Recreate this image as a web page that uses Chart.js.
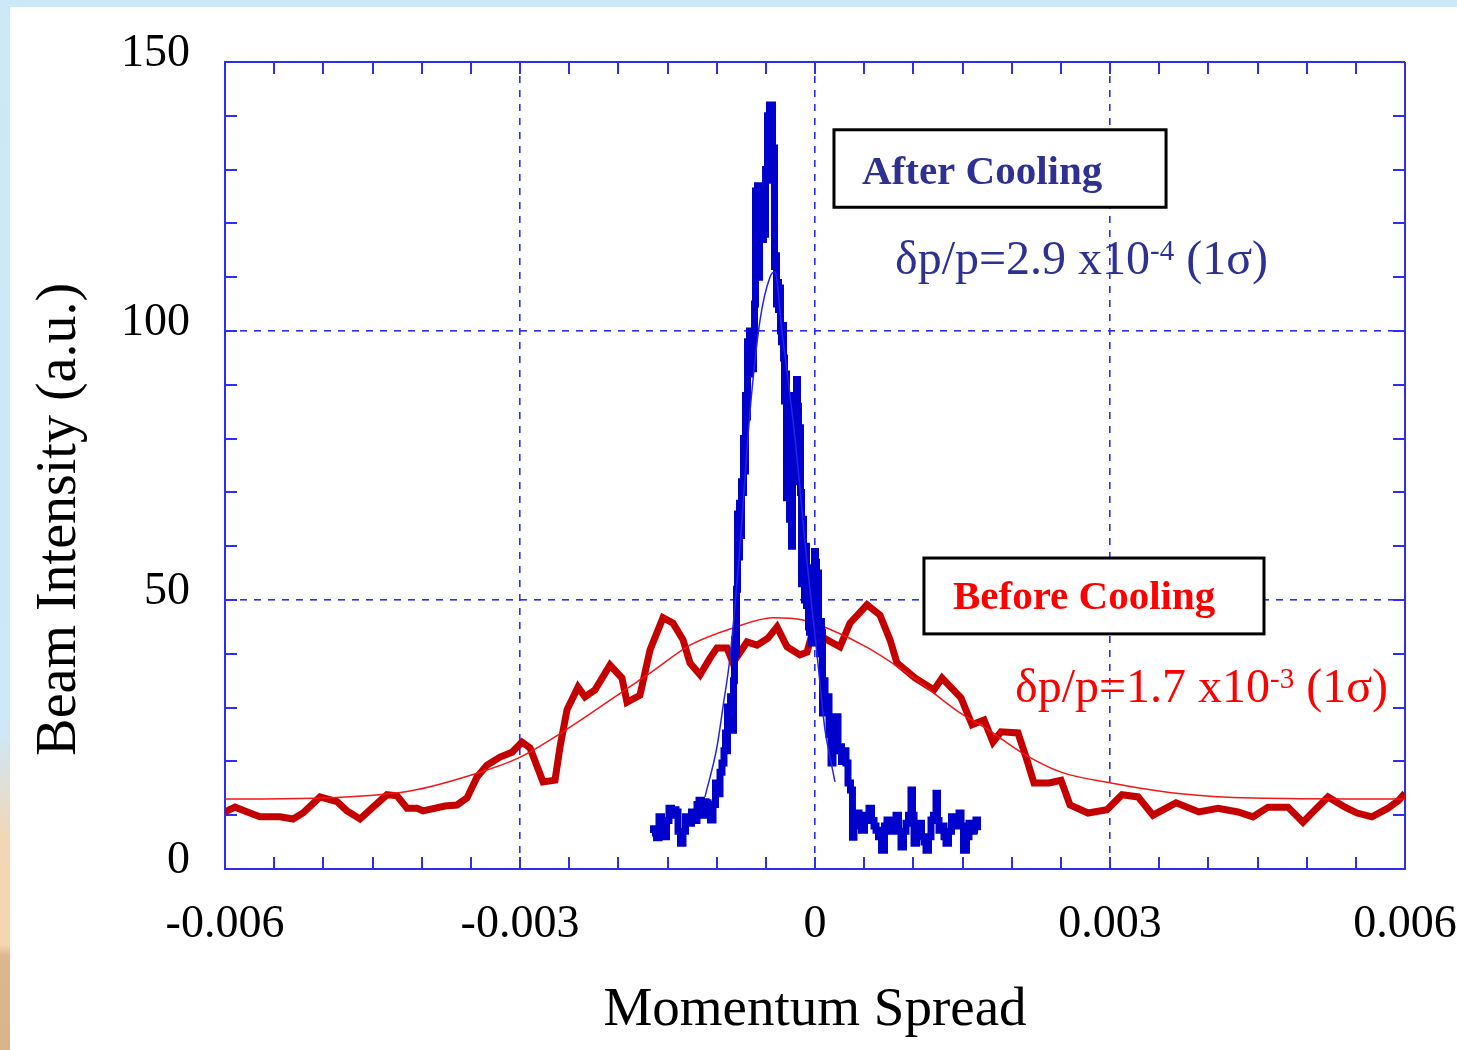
<!DOCTYPE html>
<html>
<head>
<meta charset="utf-8">
<script src="https://cdn.jsdelivr.net/npm/chart.js@4.4.1/dist/chart.umd.min.js"></script>
<style>
  html, body { margin: 0; padding: 0; }
  body {
    width: 1457px; height: 1050px; position: relative; overflow: hidden;
    background: linear-gradient(to bottom, #cce8f9 0%, #cfe7f6 70%, #f3d6b6 80%, #f6d5b1 90%, #ddb78f 91%, #d9b38b 100%);
  }
  #paper { position: absolute; left: 10px; top: 7px; right: 0; bottom: 0; background: #fff; }
  #chart { position: absolute; left: 0; top: 0; }
</style>
</head>
<body>
<div id="paper"></div>
<canvas id="chart" width="1457" height="1050"></canvas>
<script>
// momentum spread in units of 1e-3, intensity in a.u.
const beforeMomentum = [
    -6.000, -5.898, -5.746, -5.644, -5.441, -5.308, -5.207, -5.034, -4.861, -4.759,
    -4.627, -4.495, -4.353, -4.251, -4.149, -4.047, -3.986, -3.763, -3.641, -3.539,
    -3.437, -3.336, -3.203, -3.081, -2.980, -2.898, -2.766, -2.644, -2.593, -2.522,
    -2.410, -2.339, -2.237, -2.085, -1.963, -1.912, -1.780, -1.678, -1.546, -1.444,
    -1.342, -1.271, -1.169, -1.068, -0.997, -0.895, -0.834, -0.692, -0.590, -0.478,
    -0.386, -0.285, -0.153, -0.081, -0.020, 0.122, 0.254, 0.356, 0.529, 0.661,
    0.763, 0.834, 1.017, 1.210, 1.292, 1.485, 1.597, 1.719, 1.810, 1.892,
    2.064, 2.146, 2.227, 2.380, 2.502, 2.593, 2.776, 2.969, 3.122, 3.285,
    3.437, 3.671, 3.905, 4.098, 4.302, 4.454, 4.607, 4.810, 4.963, 5.085,
    5.217, 5.390, 5.512, 5.664, 5.827, 5.939, 6.000
];
const beforeIntensity = [
    10.6, 11.5, 10.4, 9.7, 9.7, 9.3, 10.4, 13.4, 12.5, 10.8,
    9.3, 11.5, 13.8, 13.6, 11.3, 11.3, 10.8, 11.7, 11.9, 13.2,
    17.1, 19.3, 20.8, 21.7, 23.6, 22.5, 16.2, 16.5, 22.7, 29.6,
    33.8, 32.0, 33.3, 37.9, 35.5, 31.0, 32.3, 40.7, 46.7, 45.7,
    42.6, 38.3, 36.1, 39.2, 41.1, 41.1, 38.3, 42.2, 41.6, 42.9,
    45.0, 41.3, 39.8, 40.3, 44.4, 42.6, 41.3, 45.7, 49.1, 47.2,
    42.6, 38.3, 35.5, 33.3, 35.5, 31.8, 26.8, 27.7, 23.6, 25.5,
    25.3, 20.8, 16.0, 16.0, 16.5, 11.9, 10.4, 11.0, 13.8, 13.4,
    10.0, 12.3, 10.6, 11.3, 10.6, 9.7, 11.5, 11.5, 8.7, 11.0,
    13.4, 11.5, 10.4, 9.7, 11.3, 12.8, 14.1
];

const beforeFitMomentum = [-6.0, -5.034, -4.119, -3.437, -3.020, -2.563, -1.810, -1.678, -1.271, -0.834,
    -0.427, -0.122, 0.122, 0.539, 0.936, 1.129, 1.475, 1.719, 2.105, 2.502, 3.010, 3.671, 4.454, 6.0];
const beforeFitIntensity = [13.0, 13.2, 14.5, 17.8, 20.6, 25.5, 34.8, 36.4, 41.6, 44.8,
    46.7, 46.3, 44.8, 41.1, 36.4, 33.8, 29.0, 26.4, 21.6, 18.0, 16.0, 14.1, 13.2, 13.0];

const afterMomentum = [
    -1.658, -1.627, -1.597, -1.576, -1.546, -1.525, -1.495, -1.475, -1.444, -1.424,
    -1.403, -1.383, -1.353, -1.332, -1.302, -1.271, -1.241, -1.210, -1.190, -1.169,
    -1.139, -1.119, -1.098, -1.078, -1.047, -1.027, -0.997, -0.976, -0.956, -0.936,
    -0.915, -0.905, -0.895, -0.885, -0.864, -0.854, -0.834, -0.824, -0.814, -0.803,
    -0.793,
    -0.783, -0.773, -0.763, -0.753, -0.742, -0.732, -0.722, -0.712, -0.702, -0.692,
    -0.681, -0.671, -0.661, -0.651, -0.641, -0.631, -0.620, -0.610, -0.600, -0.590,
    -0.580, -0.569, -0.559, -0.549, -0.539, -0.529, -0.519, -0.508, -0.498, -0.488,
    -0.478, -0.468, -0.458, -0.447, -0.437, -0.427, -0.417, -0.407, -0.397, -0.386,
    -0.376, -0.366, -0.356, -0.346, -0.336, -0.325, -0.315, -0.305, -0.295, -0.285,
    -0.275, -0.264, -0.254, -0.244, -0.234, -0.224, -0.214, -0.203, -0.193, -0.183,
    -0.173, -0.163, -0.153, -0.142, -0.132, -0.122, -0.112, -0.102, -0.092, -0.081,
    -0.071, -0.061, -0.051, -0.041, -0.031, -0.020, -0.010, 0.000, 0.010, 0.020,
    0.031, 0.041, 0.051, 0.061, 0.071, 0.081, 0.092,
    0.112, 0.132, 0.153, 0.173, 0.193, 0.224, 0.244, 0.254, 0.285, 0.305,
    0.325, 0.346, 0.376, 0.386, 0.407, 0.437, 0.458, 0.488, 0.519, 0.539,
    0.559, 0.590, 0.610, 0.631, 0.661, 0.692, 0.722, 0.742, 0.763, 0.793,
    0.814, 0.834, 0.864, 0.885, 0.915, 0.936, 0.966, 0.986, 0.997, 1.017,
    1.047, 1.068, 1.098, 1.119, 1.139, 1.169, 1.190, 1.220, 1.241, 1.251,
    1.271, 1.302, 1.322, 1.342, 1.373, 1.403, 1.424, 1.454, 1.475, 1.495,
    1.525, 1.556, 1.576, 1.607, 1.627, 1.647, 1.658
];
const afterIntensity = [
    6.7, 7.5, 5.8, 9.7, 8.0, 6.0, 9.0, 11.3, 10.0, 11.0,
    10.6, 7.0, 4.8, 7.0, 9.7, 8.5, 10.6, 9.0, 12.0, 12.8,
    10.0, 12.5, 12.3, 10.0, 9.1, 12.0, 16.0, 14.0, 18.0, 19.7,
    22.0, 25.3, 22.0, 30.1, 28.0, 32.0, 25.8, 35.0, 42.6, 40.0,
    52.0,
    66, 58, 68, 62, 72, 70, 80, 74, 88, 84,
    98, 92, 100, 95, 97, 93, 99, 105, 126, 118,
    127, 110, 126, 118, 124, 117, 122, 118, 130, 128,
    140, 134, 142, 136, 142, 130, 134, 112, 114, 105,
    109, 104, 108, 100, 98, 101, 95, 87, 92, 69,
    84, 74, 65, 88, 60, 78, 72, 85, 80, 91,
    86, 75, 82, 70, 53, 65, 55, 50, 60, 49,
    52, 45, 44, 48, 42, 52, 56, 59, 57, 47,
    55, 44, 40, 46, 44, 29, 35,
    30, 32, 25, 19.7, 26, 28.3, 22, 22.7, 20, 22,
    19.7, 16, 14.7, 5.9, 9, 10.4, 8, 7.2, 10, 9,
    11.3, 9, 8, 7.2, 6, 3.5, 8, 9.1, 7, 9,
    8, 10, 7, 4.1, 7, 8.5, 10, 14.7, 10, 4.8,
    7, 8.5, 6, 5, 3.5, 6, 9.1, 10, 14.1, 9,
    7.2, 8, 6, 4.8, 7, 9.7, 8, 9, 10.4, 8,
    3.5, 6, 8.5, 7, 8, 9.1, 7.2
];

const afterFitMomentum = [-1.119, -0.997, -0.936, -0.864, -0.763, -0.661, -0.559, -0.458, -0.407,
    -0.336, -0.203, -0.081, 0.020, 0.071, 0.102, 0.153, 0.203];
const afterFitIntensity = [13.4, 22.7, 30.1, 39.4, 60, 85, 102, 110, 111,
    100, 80, 57, 40, 30.9, 25.8, 20.8, 16.2];

const X_MIN = -6, X_MAX = 6, X_STEP = 0.5, X_MAJOR = 3;
const Y_MIN = 0, Y_MAX = 150, Y_STEP = 10, Y_MAJOR = 50;

const FONT = "'Liberation Serif', 'Times New Roman', serif";
const AXIS_BLUE = '#2e2ef0';
const NAVY = '#2e3192';
const RED = '#c40000';

function toPoints(xs, ys) {
    return xs.map((x, i) => ({x: x, y: ys[i]}));
}

function isMajor(v, major) {
    const r = Math.abs(v / major - Math.round(v / major));
    return r < 1e-6;
}

function gridOptions(min, max, major) {
    const edge = v => Math.abs(v - min) < 1e-9 || Math.abs(v - max) < 1e-9;
    return {
        grid: {
            drawTicks: false,
            color: c => {
                if (!c.tick) return 'rgba(0,0,0,0)';
                const v = c.tick.value;
                return (edge(v) || isMajor(v, major)) ? AXIS_BLUE : 'rgba(0,0,0,0)';
            },
            lineWidth: c => (c.tick && edge(c.tick.value)) ? 2 : 1.6
        },
        border: {
            display: true,
            color: AXIS_BLUE,
            width: 2,
            dash: c => (c.tick && !edge(c.tick.value)) ? [7, 7] : []
        }
    };
}

// short inward tick marks on all four sides of the frame
const frameTicks = {
    id: 'frameTicks',
    beforeDatasetsDraw(chart) {
        const {ctx, chartArea: a, scales: {x, y}} = chart;
        const len = 12;
        ctx.save();
        ctx.strokeStyle = AXIS_BLUE;
        ctx.lineWidth = 2;
        ctx.beginPath();
        x.ticks.forEach(t => {
            if (t.value <= x.min || t.value >= x.max) return;
            const px = Math.round(x.getPixelForValue(t.value));
            ctx.moveTo(px, a.bottom); ctx.lineTo(px, a.bottom - len);
            ctx.moveTo(px, a.top); ctx.lineTo(px, a.top + len);
        });
        y.ticks.forEach(t => {
            if (t.value <= y.min || t.value >= y.max) return;
            const py = Math.round(y.getPixelForValue(t.value));
            ctx.moveTo(a.left, py); ctx.lineTo(a.left + len, py);
            ctx.moveTo(a.right, py); ctx.lineTo(a.right - len, py);
        });
        ctx.stroke();
        ctx.restore();
    }
};

function drawRich(ctx, x, y, parts, color) {
    ctx.fillStyle = color;
    ctx.textAlign = 'left';
    ctx.textBaseline = 'alphabetic';
    parts.forEach(p => {
        ctx.font = `${p.bold ? 'bold ' : ''}${p.size}px ${FONT}`;
        ctx.fillText(p.text, x, y - (p.rise || 0));
        x += ctx.measureText(p.text).width;
    });
}

const NOTES = [
    {
        box: [0.193, 137.4, 3.57, 123.0],
        color: NAVY,
        lines: [
            {at: [0.478, 127.4], parts: [{text: 'After Cooling', size: 41, bold: true}]},
            {at: [0.814, 110.6], parts: [
                {text: 'δp/p=2.9 x10', size: 48},
                {text: '-4', size: 29, rise: 14},
                {text: ' (1σ)', size: 48}
            ]}
        ]
    },
    {
        box: [1.108, 57.8, 4.566, 43.7],
        color: '#ff0000',
        lines: [
            {at: [1.403, 48.4], parts: [{text: 'Before Cooling', size: 41, bold: true}]},
            {at: [2.034, 31.0], parts: [
                {text: 'δp/p=1.7 x10', size: 48},
                {text: '-3', size: 29, rise: 14},
                {text: ' (1σ)', size: 48}
            ]}
        ]
    }
];

const notes = {
    id: 'notes',
    afterDatasetsDraw(chart) {
        const {ctx, scales: {x, y}} = chart;
        ctx.save();
        NOTES.forEach(n => {
            const x1 = x.getPixelForValue(n.box[0]), y1 = y.getPixelForValue(n.box[1]);
            const x2 = x.getPixelForValue(n.box[2]), y2 = y.getPixelForValue(n.box[3]);
            ctx.fillStyle = '#fff';
            ctx.fillRect(x1, y1, x2 - x1, y2 - y1);
            ctx.strokeStyle = '#000';
            ctx.lineWidth = 3;
            ctx.strokeRect(x1, y1, x2 - x1, y2 - y1);
            n.lines.forEach(l => {
                drawRich(ctx, x.getPixelForValue(l.at[0]), y.getPixelForValue(l.at[1]), l.parts, n.color);
            });
        });
        ctx.restore();
    }
};

// axis titles: the y title sits a little below the frame centre in the original
const axisTitles = {
    id: 'axisTitles',
    afterDraw(chart) {
        const {ctx, chartArea: a, scales: {x, y}} = chart;
        ctx.save();
        ctx.fillStyle = '#000';
        ctx.textAlign = 'center';
        ctx.textBaseline = 'alphabetic';
        ctx.font = `55px ${FONT}`;
        ctx.fillText('Momentum Spread', x.getPixelForValue(0), a.bottom + 156);
        ctx.translate(a.left - 150, y.getPixelForValue(65));
        ctx.rotate(-Math.PI / 2);
        ctx.font = `56px ${FONT}`;
        ctx.fillText('Beam Intensity (a.u.)', 0, 0);
        ctx.restore();
    }
};

const xGrid = gridOptions(X_MIN, X_MAX, X_MAJOR);
const yGrid = gridOptions(Y_MIN, Y_MAX, Y_MAJOR);

new Chart(document.getElementById('chart'), {
    type: 'line',
    data: {
        datasets: [
            {
                label: 'After Cooling fit',
                data: toPoints(afterFitMomentum, afterFitIntensity),
                borderColor: '#2424e8',
                borderWidth: 1.5,
                pointRadius: 0,
                cubicInterpolationMode: 'monotone'
            },
            {
                label: 'After Cooling',
                data: toPoints(afterMomentum, afterIntensity),
                borderColor: '#0000cc',
                borderWidth: 7,
                pointRadius: 0,
                stepped: 'middle'
            },
            {
                label: 'Before Cooling fit',
                data: toPoints(beforeFitMomentum, beforeFitIntensity),
                borderColor: '#f01818',
                borderWidth: 1.5,
                pointRadius: 0,
                cubicInterpolationMode: 'monotone'
            },
            {
                label: 'Before Cooling',
                data: toPoints(beforeMomentum, beforeIntensity),
                borderColor: RED,
                borderWidth: 7,
                pointRadius: 0,
                tension: 0
            }
        ]
    },
    options: {
        responsive: false,
        animation: false,
        devicePixelRatio: 1,
        layout: {padding: {top: 62, right: 52, bottom: 0, left: 0}},
        plugins: {
            legend: {display: false},
            tooltip: {enabled: false}
        },
        scales: {
            x: {
                type: 'linear',
                min: X_MIN,
                max: X_MAX,
                afterFit(s) { s.height = 181; s.paddingLeft = 0; s.paddingRight = 0; },
                ticks: {
                    stepSize: X_STEP,
                    autoSkip: false,
                    maxRotation: 0,
                    padding: 28,
                    color: '#000',
                    font: {family: FONT, size: 46},
                    callback: v => isMajor(v, X_MAJOR) ? (Math.abs(v) < 1e-9 ? '0' : (v / 1000).toFixed(3)) : ''
                },
                grid: xGrid.grid,
                border: xGrid.border
            },
            y: {
                type: 'linear',
                min: Y_MIN,
                max: Y_MAX,
                afterFit(s) { s.width = 225; s.paddingTop = 0; s.paddingBottom = 0; },
                ticks: {
                    stepSize: Y_STEP,
                    autoSkip: false,
                    padding: 35,
                    labelOffset: -8,
                    color: '#000',
                    font: {family: FONT, size: 46},
                    callback: v => isMajor(v, Y_MAJOR) ? String(v) : ''
                },
                grid: yGrid.grid,
                border: yGrid.border
            }
        }
    },
    plugins: [frameTicks, notes, axisTitles]
});
</script>
</body>
</html>
